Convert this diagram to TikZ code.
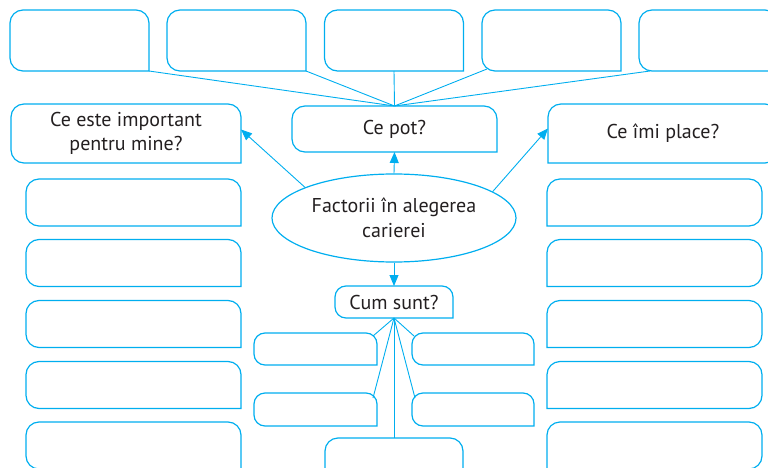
\documentclass[tikz,border=0pt]{standalone}
\usepackage{fontspec}
\setmainfont{PT Sans}
\usetikzlibrary{arrows.meta,shapes.geometric}
\definecolor{cy}{HTML}{00AEEF}
\definecolor{ink}{HTML}{231F20}
% outline with bottom-right corner sharp
\newcommand\outBR[2][13pt]{\draw[boxline,rounded corners=#1] (#2.south east) -- (#2.north east) -- (#2.north west) -- (#2.south west) -- (#2.south east);}
% outline with bottom-left corner sharp
\newcommand\outBL[2][13pt]{\draw[boxline,rounded corners=#1] (#2.south west) -- (#2.north west) -- (#2.north east) -- (#2.south east) -- (#2.south west);}
\begin{document}
\begin{tikzpicture}[x=1pt,y=-1pt,
  font=\fontsize{20}{24.5}\selectfont,
  box/.style={rectangle, inner sep=0pt, outer sep=0pt, align=center, text=ink},
  sz/.style 2 args={minimum width=#1pt, minimum height=#2pt},
  boxline/.style={draw=cy, line width=1.2pt, line cap=rect},
  conn/.style={draw=cy, line width=0.9pt},
  arr/.style={conn, -{Triangle[length=11pt,width=9pt]}}]
\useasboundingbox (0,0) rectangle (768,468);
\clip (0,0) rectangle (768,468);

% top row
\node[box, sz={139}{61}] (t1) at (79.5,40.5) {};
\node[box, sz={139}{61}] (t2) at (236.5,40.5) {};
\node[box, sz={139}{61}] (t3) at (394,40.5) {};
\node[box, sz={139}{61}] (t4) at (551.5,40.5) {};
\node[box, sz={139}{61}] (t5) at (708.5,40.5) {};
\outBR{t1}\outBR{t2}\outBR{t3}\outBR{t4}\outBR{t5}

% second row
\node[box, sz={205}{46}] (cepot) at (394.5,129) {Ce pot?};
\node[box, sz={230}{59}] (ceimp) at (126,133.5) {Ce este important\\pentru mine?};
\node[box, sz={230}{59}] (ceplace) at (663,133.5) {Ce îmi place?};
\outBR{cepot}\outBR{ceimp}\outBL{ceplace}

% centre ellipse
\node[ellipse, draw=cy, line width=1.2pt, inner sep=0pt, minimum width=244pt, minimum height=88pt, align=center, text=ink] (ell) at (394,218) {Factorii în alegerea\\carierei};

% left and right columns
\foreach \i/\y in {1/202.5,2/263,3/324,4/385,5/445.5}{
  \node[box, sz={215}{47}] (L\i) at (133.5,\y) {};
  \node[box, sz={215}{47}] (R\i) at (654.5,\y) {};
  \outBR{L\i}\outBL{R\i}
}

% Cum sunt and its boxes
\node[box, sz={118}{32}] (cum) at (394,302) {Cum sunt?};
\node[box, sz={123}{32}] (s1) at (315.5,349) {};
\node[box, sz={123}{33}] (s2) at (315.5,409.5) {};
\node[box, sz={122}{32}] (s3) at (473,349) {};
\node[box, sz={122}{33}] (s4) at (473,409.5) {};
\node[box, sz={138}{48}] (bot) at (394,462) {};
\outBR[11pt]{cum}\outBR[11pt]{s1}\outBR[11pt]{s2}\outBR[11pt]{s3}\outBR[11pt]{s4}\outBR{bot}

% connectors top
\draw[conn] (t1.south east) -- (cepot.north);
\draw[conn] (t2.south east) -- (cepot.north);
\draw[conn] (t3.south) -- (cepot.north);
\draw[conn] ([xshift=5pt,yshift=2pt]t4.south west) -- (cepot.north);
\draw[conn] ([xshift=11pt]t5.south west) -- (cepot.north);

% arrows
\draw[arr] (ell.north) -- (cepot.south);
\draw[arr] (ell.south) -- (cum.north);
\draw[arr] (ell.161) -- ([yshift=4pt]ceimp.east);
\draw[arr] (ell.15) -- ([yshift=5pt]ceplace.west);

% connectors bottom
\draw[conn] (cum.south) -- ([xshift=-4pt,yshift=-3pt]s1.north east);
\draw[conn] (cum.south) -- ([xshift=-4pt,yshift=-5pt]s2.north east);
\draw[conn] (cum.south) -- ([xshift=2pt,yshift=-3pt]s3.north west);
\draw[conn] (cum.south) -- ([xshift=3pt,yshift=-5pt]s4.north west);
\draw[conn] (cum.south) -- (bot.north);
\end{tikzpicture}
\end{document}
